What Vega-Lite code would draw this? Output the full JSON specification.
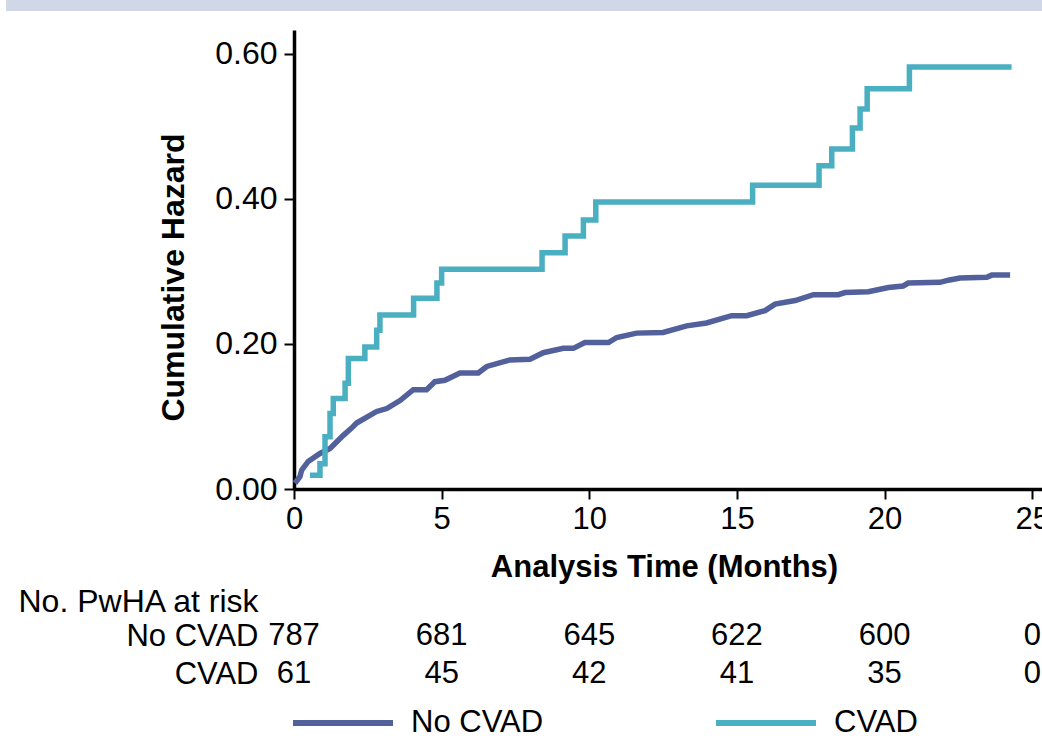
{
  "$schema": "https://vega.github.io/schema/vega-lite/v6.json",
  "width": 748,
  "height": 459,
  "autosize": {"type": "none"},
  "padding": {"left": 294, "top": 30, "right": 0, "bottom": 247},
  "background": "white",
  "config": {"view": {"stroke": null}, "font": "Liberation Sans", "axis": {"grid": false}},
  "datasets": {
    "curves": [
      {"group": "No CVAD", "t": 0.03, "h": 0.008},
      {"group": "No CVAD", "t": 0.20, "h": 0.017},
      {"group": "No CVAD", "t": 0.26, "h": 0.026},
      {"group": "No CVAD", "t": 0.48, "h": 0.038},
      {"group": "No CVAD", "t": 0.88, "h": 0.049},
      {"group": "No CVAD", "t": 1.22, "h": 0.056},
      {"group": "No CVAD", "t": 1.67, "h": 0.074},
      {"group": "No CVAD", "t": 1.95, "h": 0.084},
      {"group": "No CVAD", "t": 2.12, "h": 0.091},
      {"group": "No CVAD", "t": 2.80, "h": 0.107},
      {"group": "No CVAD", "t": 3.14, "h": 0.111},
      {"group": "No CVAD", "t": 3.59, "h": 0.122},
      {"group": "No CVAD", "t": 4.04, "h": 0.137},
      {"group": "No CVAD", "t": 4.49, "h": 0.137},
      {"group": "No CVAD", "t": 4.77, "h": 0.148},
      {"group": "No CVAD", "t": 5.11, "h": 0.150},
      {"group": "No CVAD", "t": 5.62, "h": 0.160},
      {"group": "No CVAD", "t": 6.24, "h": 0.160},
      {"group": "No CVAD", "t": 6.53, "h": 0.169},
      {"group": "No CVAD", "t": 7.31, "h": 0.178},
      {"group": "No CVAD", "t": 7.99, "h": 0.179},
      {"group": "No CVAD", "t": 8.44, "h": 0.188},
      {"group": "No CVAD", "t": 9.12, "h": 0.194},
      {"group": "No CVAD", "t": 9.46, "h": 0.194},
      {"group": "No CVAD", "t": 9.85, "h": 0.202},
      {"group": "No CVAD", "t": 10.65, "h": 0.202},
      {"group": "No CVAD", "t": 10.93, "h": 0.209},
      {"group": "No CVAD", "t": 11.60, "h": 0.215},
      {"group": "No CVAD", "t": 12.50, "h": 0.216},
      {"group": "No CVAD", "t": 13.30, "h": 0.225},
      {"group": "No CVAD", "t": 13.97, "h": 0.229},
      {"group": "No CVAD", "t": 14.82, "h": 0.239},
      {"group": "No CVAD", "t": 15.33, "h": 0.239},
      {"group": "No CVAD", "t": 15.95, "h": 0.246},
      {"group": "No CVAD", "t": 16.29, "h": 0.255},
      {"group": "No CVAD", "t": 16.97, "h": 0.260},
      {"group": "No CVAD", "t": 17.59, "h": 0.268},
      {"group": "No CVAD", "t": 18.43, "h": 0.268},
      {"group": "No CVAD", "t": 18.66, "h": 0.271},
      {"group": "No CVAD", "t": 19.45, "h": 0.272},
      {"group": "No CVAD", "t": 20.13, "h": 0.278},
      {"group": "No CVAD", "t": 20.63, "h": 0.280},
      {"group": "No CVAD", "t": 20.80, "h": 0.284},
      {"group": "No CVAD", "t": 21.88, "h": 0.285},
      {"group": "No CVAD", "t": 22.16, "h": 0.288},
      {"group": "No CVAD", "t": 22.55, "h": 0.291},
      {"group": "No CVAD", "t": 23.46, "h": 0.292},
      {"group": "No CVAD", "t": 23.63, "h": 0.295},
      {"group": "No CVAD", "t": 24.25, "h": 0.295},
      {"group": "CVAD", "t": 0.54, "h": 0.019},
      {"group": "CVAD", "t": 0.88, "h": 0.035},
      {"group": "CVAD", "t": 1.05, "h": 0.072},
      {"group": "CVAD", "t": 1.22, "h": 0.104},
      {"group": "CVAD", "t": 1.33, "h": 0.125},
      {"group": "CVAD", "t": 1.73, "h": 0.146},
      {"group": "CVAD", "t": 1.84, "h": 0.180},
      {"group": "CVAD", "t": 2.40, "h": 0.196},
      {"group": "CVAD", "t": 2.80, "h": 0.219},
      {"group": "CVAD", "t": 2.91, "h": 0.240},
      {"group": "CVAD", "t": 4.05, "h": 0.263},
      {"group": "CVAD", "t": 4.84, "h": 0.284},
      {"group": "CVAD", "t": 5.00, "h": 0.303},
      {"group": "CVAD", "t": 8.40, "h": 0.326},
      {"group": "CVAD", "t": 9.18, "h": 0.349},
      {"group": "CVAD", "t": 9.80, "h": 0.371},
      {"group": "CVAD", "t": 10.22, "h": 0.396},
      {"group": "CVAD", "t": 15.53, "h": 0.419},
      {"group": "CVAD", "t": 17.78, "h": 0.446},
      {"group": "CVAD", "t": 18.21, "h": 0.469},
      {"group": "CVAD", "t": 18.91, "h": 0.498},
      {"group": "CVAD", "t": 19.17, "h": 0.524},
      {"group": "CVAD", "t": 19.41, "h": 0.552},
      {"group": "CVAD", "t": 20.84, "h": 0.582},
      {"group": "CVAD", "t": 24.30, "h": 0.582}
    ],
    "risk": [
      {"group": "No CVAD", "time": 0, "n": 787},
      {"group": "No CVAD", "time": 5, "n": 681},
      {"group": "No CVAD", "time": 10, "n": 645},
      {"group": "No CVAD", "time": 15, "n": 622},
      {"group": "No CVAD", "time": 20, "n": 600},
      {"group": "No CVAD", "time": 25, "n": 0},
      {"group": "CVAD", "time": 0, "n": 61},
      {"group": "CVAD", "time": 5, "n": 45},
      {"group": "CVAD", "time": 10, "n": 42},
      {"group": "CVAD", "time": 15, "n": 41},
      {"group": "CVAD", "time": 20, "n": 35},
      {"group": "CVAD", "time": 25, "n": 0}
    ]
  },
  "layer": [
    {
      "layer": [
        {
          "data": {"values": [{}]},
          "mark": {"type": "rect", "color": "#d0d8e7", "clip": false},
          "encoding": {
            "x": {"datum": -9.75, "type": "quantitative"},
            "x2": {"datum": 25.6},
            "y": {"datum": 0.6593, "type": "quantitative"},
            "y2": {"datum": 0.70}
          }
        },
        {
          "data": {"name": "curves"},
          "transform": [{"filter": "datum.group === 'No CVAD'"}],
          "mark": {"type": "line", "strokeWidth": 5.5, "interpolate": "linear"},
          "encoding": {
            "x": {
              "field": "t", "type": "quantitative",
              "scale": {"domain": [0, 25.33], "nice": false, "zero": false},
              "axis": {
                "values": [0, 5, 10, 15, 20, 25],
                "format": "d",
                "labelFontSize": 31, "labelColor": "black", "labelFlush": false, "labelPadding": 5,
                "tickSize": 10, "tickWidth": 2, "tickColor": "black",
                "domainColor": "black", "domainWidth": 3.5,
                "title": "Analysis Time (Months)",
                "titleFontSize": 31, "titleFontWeight": "bold", "titleColor": "black",
                "titleX": 370, "titleY": 87, "titleAlign": "center", "titleBaseline": "alphabetic"
              }
            },
            "y": {
              "field": "h", "type": "quantitative",
              "scale": {"domain": [0, 0.6331], "nice": false, "zero": false},
              "axis": {
                "values": [0, 0.2, 0.4, 0.6],
                "format": ".2f",
                "labelFontSize": 32, "labelColor": "black", "labelFlush": false, "labelPadding": 7,
                "tickSize": 10, "tickWidth": 2, "tickColor": "black",
                "domainColor": "black", "domainWidth": 3.5,
                "title": "Cumulative Hazard",
                "titleFontSize": 32, "titleFontWeight": "bold", "titleColor": "black",
                "titleAngle": 270, "titleX": -111, "titleY": 247, "titleAlign": "center", "titleBaseline": "alphabetic"
              }
            },
            "color": {
              "field": "group", "type": "nominal",
              "scale": {"domain": ["No CVAD", "CVAD"], "range": ["#52609b", "#4aafc0"]},
              "legend": {
                "orient": "none", "legendX": -4, "legendY": 640,
                "direction": "horizontal", "title": null,
                "symbolType": "stroke", "symbolSize": 10000, "symbolStrokeWidth": 6,
                "labelFontSize": 31, "labelColor": "black", "labelOffset": 15, "labelLimit": 400,
                "columnPadding": 160, "padding": 0
              }
            }
          }
        },
        {
          "data": {"name": "curves"},
          "transform": [{"filter": "datum.group === 'CVAD'"}],
          "mark": {"type": "line", "strokeWidth": 5.5, "interpolate": "step-after"},
          "encoding": {
            "x": {"field": "t", "type": "quantitative"},
            "y": {"field": "h", "type": "quantitative"},
            "color": {"field": "group", "type": "nominal"}
          }
        }
      ]
    },
    {
      "data": {"name": "risk"},
      "mark": {"type": "text", "fontSize": 31, "color": "black", "align": "center", "baseline": "middle"},
      "encoding": {
        "x": {"field": "time", "type": "quantitative"},
        "y": {
          "field": "group", "type": "nominal",
          "scale": {"type": "point", "domain": ["No CVAD", "CVAD"], "range": [606, 644], "padding": 0},
          "axis": {
            "orient": "left", "domain": false, "ticks": false, "tickSize": 0,
            "labelFontSize": 31, "labelColor": "black", "labelPadding": 36, "labelAlign": "right", "labelBaseline": "middle",
            "title": "No. PwHA at risk", "titleFontSize": 32, "titleFontWeight": "normal", "titleColor": "black",
            "titleAngle": 0, "titleX": -276, "titleY": 571, "titleAlign": "left", "titleBaseline": "middle"
          }
        },
        "text": {"field": "n", "type": "quantitative"}
      }
    }
  ],
  "resolve": {"scale": {"y": "independent"}, "axis": {"y": "independent"}}
}
